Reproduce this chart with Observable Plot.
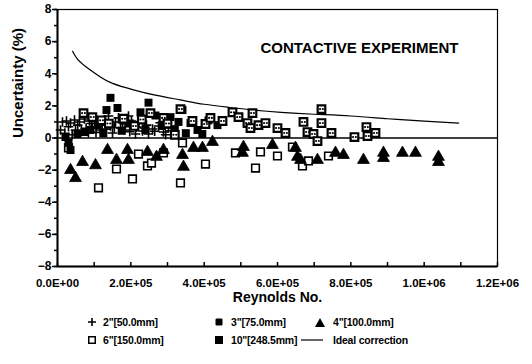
<!DOCTYPE html>
<html>
<head>
<meta charset="utf-8">
<script src="https://cdn.jsdelivr.net/npm/d3@7"></script>
<script src="https://cdn.jsdelivr.net/npm/@observablehq/plot@0.6"></script>
<style>
  html, body { margin: 0; padding: 0; background: white; }
  #wrap { position: relative; width: 532px; height: 364px; overflow: hidden; font-family: "Liberation Sans", Arial, sans-serif; font-weight: bold; }
  #legend { position: absolute; left: 0; top: 313px; width: 532px; font-size: 10.5px; letter-spacing: -0.2px; color: #000; }
  .item { position: absolute; display: flex; align-items: center; white-space: nowrap; height: 16px; }
  .item svg { overflow: visible; margin-right: 6px; }
</style>
</head>
<body>
<div id="wrap"><div id="legend"></div></div>
<script>
// ---- data: [Reynolds number, uncertainty %] ----
const pipe2 = [ // 2"[50.0mm] plus markers
  [8200,0.5],[13600,1.0],[20000,0.3],[24500,1.06],[30000,0.7],[35500,0.93],[40000,0.2],
  [46400,1.12],[49100,0.5],[55000,0.8],[60000,1.0],[65000,0.45],[73600,1.18],[78000,0.6],
  [84500,0.31],[87300,1.06],[92000,0.9],[95400,0.68],[100900,1.25],[105000,0.35],[114500,0.93],
  [117300,0.5],[122000,0.8],[128200,1.12],[133000,0.55],[139100,1.37],[144500,0.75],[150000,0.31],
  [155000,0.65],[158200,1.0],[166300,1.25],[171800,0.62],[177000,0.95],[182700,0.5],[185400,0.87],
  [193600,1.37],[197000,0.4],[201800,1.06],[207000,0.85],[212700,0.25],[215400,0.68],[222000,1.0],
  [231800,0.44],[237000,0.62],[242700,0.8],[248200,0.25],[259100,0.56],[265000,0.42],[275400,0.75],
  [280000,0.95],[289000,0.37],[295000,0.2],[302700,0.62],[310000,0.45]
];
const pipe3 = [ // 3"[75.0mm] filled squares
  [21800,0.06],[30000,-0.3],[35500,-0.75],[54500,0.25],[73600,0.37],[90000,0.5],[110000,0.8],
  [125000,0.3],[133600,1.74],[144500,2.5],[163600,1.87],[175000,0.45],[195000,0.9],[226300,1.6],
  [240000,0.5],[248200,2.2],[267200,1.4],[285000,0.75],[308200,1.3],[320000,0.55],[330000,1.0],
  [340900,1.74],[350000,0.3],[362700,0.93],[381800,0.5],[395000,0.25],[411800,1.1],[436300,0.8],
  [450000,1.0]
];
const pipe4 = [ // 4"[100.0mm] filled triangles
  [35500,-2.0],[49100,-2.5],[68200,-1.5],[103600,-1.7],[136400,-0.75],[160900,-1.37],
  [190900,-0.75],[193600,-1.37],[245400,-0.87],[270000,-1.18],[289000,-0.75],[340900,-1.06],
  [343600,-1.8],[370900,-0.62],[395400,-0.62],[422700,-0.25],[504500,-0.93],[507200,-0.56],
  [586300,-0.44],[649000,-0.62],[654500,-1.18],[662700,-1.37],[709000,-1.37],[758100,-0.93],
  [779900,-1.06],[834400,-1.37],[889000,-0.93],[889000,-1.25],[940800,-0.93],[976300,-0.93],
  [1039000,-1.18],[1039000,-1.5]
];
const pipe6 = [ // 6"[150.0mm] open squares
  [30000,-0.62],[111800,-3.1],[160900,-1.93],[204500,-2.55],[220900,-1.0],[245400,-1.74],
  [256300,-1.56],[289000,-0.93],[335400,-2.8],[340900,-0.31],[403600,-1.62],[485400,-0.93],
  [540000,-1.87],[553600,-0.87],[599900,-1.12],[640800,-0.56],[668100,-1.74],[684500,-1.43],
  [739000,-1.12]
];
const pipe10 = [ // 10"[248.5mm] dotted squares
  [70900,1.55],[95000,1.3],[120000,1.1],[140000,0.9],[180000,1.2],[210000,0.75],[230000,1.15],
  [253600,1.55],[289000,1.25],[300000,0.9],[320000,0.2],[335400,1.8],[368100,1.06],[403600,0.87],
  [417200,1.25],[450000,1.06],[477200,1.6],[493600,1.3],[518100,0.93],[526300,0.62],
  [531800,1.55],[548100,0.8],[567200,0.93],[599900,0.62],[621800,0.31],[670800,1.0],
  [681700,0.37],[698100,0.25],[709000,-0.19],[719900,1.8],[719900,0.93],[747200,0.31],
  [809900,0.06],[842600,0.68],[845400,0.12],[867200,0.31]
];
const idealCorrection = [
  [41000,5.4],[55000,4.9],[82000,4.36],[117000,3.8],[150000,3.4],[207000,3.0],[270000,2.65],
  [335000,2.37],[400000,2.1],[470000,1.9],[530000,1.75],[610000,1.6],[700000,1.48],
  [800000,1.37],[900000,1.2],[1000000,1.05],[1094000,0.93]
];
const xMajorTicks = [0, 2e5, 4e5, 6e5, 8e5, 1e6, 1.2e6];
const xMinorTicks = [0, 1e5, 2e5, 3e5, 4e5, 5e5, 6e5, 7e5, 8e5, 9e5, 1e6, 1.1e6, 1.2e6];
const yMajorTicks = [-8, -6, -4, -2, 0, 2, 4, 6, 8];
const yMinorTicks = [-8, -7, -6, -5, -4, -3, -2, -1, 0, 1, 2, 3, 4, 5, 6, 7, 8];
const titleText = "CONTACTIVE EXPERIMENT";
const xLabel = "Reynolds No.";
const yLabel = "Uncertainty (%)";
const legendItems = [
  {label: '2"[50.0mm]', kind: "plus"},
  {label: '3"[75.0mm]', kind: "square"},
  {label: '4"[100.0mm]', kind: "triangle"},
  {label: '6"[150.0mm]', kind: "open"},
  {label: '10"[248.5mm]', kind: "bigsquare"},
  {label: "Ideal correction", kind: "line"}
];

function sci(d) {
  const [m, e] = d.toExponential(1).split("e");
  const sign = e[0] === "-" ? "-" : "+";
  const digits = e.replace(/[+-]/, "").padStart(2, "0");
  return m + "E" + sign + digits;
}

const X = d => d[0], Y = d => d[1];

const chart = Plot.plot({
  width: 532,
  height: 310,
  marginLeft: 57,
  marginRight: 35,
  marginTop: 9,
  marginBottom: 44,
  x: {domain: [0, 1.2e6]},
  y: {domain: [-8, 8]},
  style: {fontFamily: '"Liberation Sans", Arial, sans-serif', fontWeight: "bold", fontSize: "11.5px", color: "black", background: "white"},
  marks: [
    Plot.frame({stroke: "black", strokeWidth: 1.2}),
    Plot.ruleX([0], {strokeWidth: 2}),
    Plot.ruleY([-8], {strokeWidth: 2}),
    Plot.axisY({ticks: yMinorTicks, tickSize: 3, tickFormat: () => "", label: null, strokeWidth: 1.5}),
    Plot.axisY({ticks: yMajorTicks, tickSize: 5, tickPadding: 1, label: null, strokeWidth: 1.5, fontSize: 12}),
    Plot.axisX({ticks: xMinorTicks, tickSize: 4, dy: -4, tickFormat: () => "", label: null, strokeWidth: 1.5}),
    Plot.axisX({ticks: xMajorTicks, tickSize: 0, tickPadding: 12, tickFormat: sci, label: null}),
    Plot.text([xLabel], {frameAnchor: "bottom", dy: 35, fontSize: 14, fontWeight: "bold"}),
    Plot.text([yLabel], {frameAnchor: "left", dx: -39, rotate: -90, fontSize: 15, fontWeight: "bold"}),
    Plot.text([titleText], {frameAnchor: "top-right", dx: -39, dy: 33, textAnchor: "end", fontSize: 15, fontWeight: "bold"}),
    Plot.ruleY([0], {strokeWidth: 1.5}),
    Plot.line(idealCorrection, {x: X, y: Y, curve: "natural", stroke: "black", strokeWidth: 1.2}),
    Plot.dot(pipe6, {x: X, y: Y, symbol: "square", r: 4.3, fill: "white", stroke: "black", strokeWidth: 1.6}),
    Plot.dot(pipe4, {x: X, y: Y, symbol: "triangle", r: 4.4, fill: "black", stroke: "black", strokeWidth: 0.8}),
    Plot.dot(pipe2, {x: X, y: Y, symbol: "plus", r: 3.2, stroke: "black", strokeWidth: 1.6}),
    Plot.dot(pipe3, {x: X, y: Y, symbol: "square", r: 4.5, fill: "black"}),
    Plot.dot(pipe10, {x: X, y: Y, symbol: "square", r: 4.3, fill: "white", stroke: "black", strokeWidth: 2.2}),
    Plot.dot(pipe10, {x: X, y: Y, r: 1.05, fill: "black", dx: -1.4}),
    Plot.dot(pipe10, {x: X, y: Y, r: 1.05, fill: "black", dx: 1.4})
  ]
});
const wrap = document.getElementById("wrap");
wrap.insertBefore(chart, wrap.firstChild);

// ---- legend (HTML below the SVG) ----
const legend = document.getElementById("legend");
const colX = [{icon: 92, text: 103}, {icon: 219, text: 231}, {icon: 320, text: 333}];
const rowY = [1, 19];
function iconSvg(kind) {
  if (kind === "plus") return '<svg width="8" height="8"><path d="M0,4H8M4,0V8" stroke="black" stroke-width="1.6"/></svg>';
  if (kind === "square") return '<svg width="8" height="8"><rect x="0.5" y="0.5" width="7" height="7" rx="1.2" fill="black"/></svg>';
  if (kind === "triangle") return '<svg width="10" height="9"><path d="M5,0L10,9H0Z" fill="black"/></svg>';
  if (kind === "open") return '<svg width="8" height="8"><rect x="0.75" y="0.75" width="6.5" height="6.5" fill="white" stroke="black" stroke-width="1.5"/></svg>';
  if (kind === "bigsquare") return '<svg width="8" height="8"><rect x="0" y="0" width="8" height="8" fill="black"/></svg>';
  return '<svg width="22" height="4"><path d="M0,2H22" stroke="black" stroke-width="1.2"/></svg>';
}
legendItems.forEach((it, i) => {
  const row = Math.floor(i / 3), col = i % 3;
  const div = document.createElement("div");
  div.className = "item";
  const svgW = it.kind === "line" ? 22 : it.kind === "triangle" ? 10 : 8;
  const left = it.kind === "line" ? 301 : colX[col].icon - svgW / 2;
  div.style.left = left + "px";
  div.style.top = rowY[row] + "px";
  div.innerHTML = iconSvg(it.kind) + "<span>" + it.label + "</span>";
  legend.appendChild(div);
  const gap = colX[col].text - (left + svgW);
  div.querySelector("svg").style.marginRight = Math.max(2, gap) + "px";
});
</script>
</body>
</html>
